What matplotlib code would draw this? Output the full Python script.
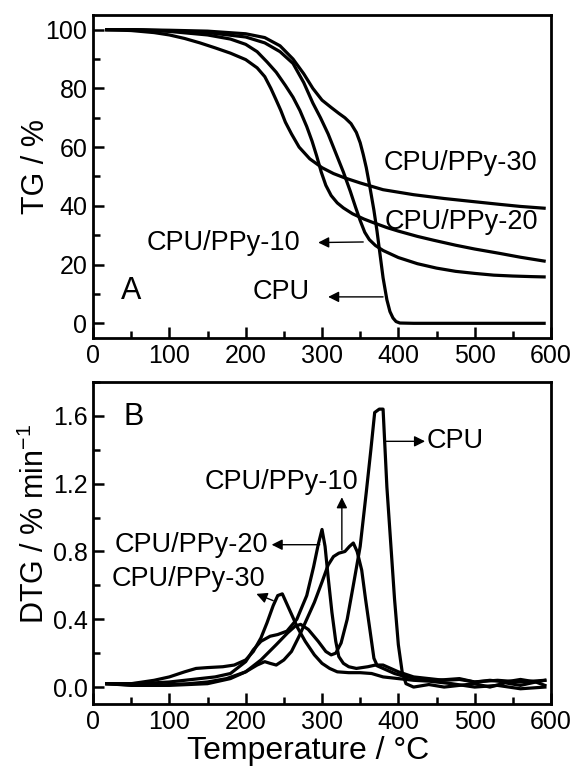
import numpy as np
import matplotlib.pyplot as plt
from matplotlib.ticker import MultipleLocator

plt.rcParams['font.family'] = ['Liberation Sans', 'DejaVu Sans']
plt.rcParams['mathtext.fontset'] = 'custom'
plt.rcParams['mathtext.rm'] = 'Liberation Sans'
plt.rcParams['mathtext.default'] = 'regular'

# ---- TG data (temperature in C, weight in %) ----
tg_cpu_t = [18, 50, 100, 150, 200, 225, 245, 262, 276, 288, 300, 312, 322, 330, 338, 345,
            350, 354, 358, 363, 368, 372, 376, 380, 385, 389, 393, 397, 402, 420, 500, 591]
tg_cpu = [100, 100, 99.8, 99.5, 98.6, 97.3, 94.5, 90, 85, 80, 76, 73.5, 71.5, 70, 68, 65,
          61.5, 57.5, 53, 46, 38.5, 31.5, 23.5, 15.5, 8, 4, 1.8, 0.6, 0.1, 0, 0, 0]

tg_p10_t = [18, 50, 100, 150, 200, 225, 245, 262, 276, 288, 298, 308, 318, 328, 337, 344,
            350, 356, 362, 370, 380, 400, 425, 450, 475, 500, 525, 550, 575, 591]
tg_p10 = [100, 100, 99.6, 99, 97.5, 95.5, 92.5, 88.5, 82, 75, 70, 64.5, 58, 51.5, 45, 39.5,
          35, 31, 28.5, 26.5, 24.8, 22.4, 20.3, 18.8, 17.7, 17, 16.4, 16.1, 15.9, 15.8]

tg_p20_t = [18, 50, 100, 150, 180, 200, 215, 228, 240, 252, 262, 271, 280, 287, 293, 299,
            305, 312, 320, 328, 340, 355, 367, 385, 400, 425, 446, 475, 500, 533, 560, 591]
tg_p20 = [100, 100, 99.4, 98.2, 96.8, 95, 92.5, 89, 85.5, 81, 77, 72.5, 67, 62, 57, 51.5,
          47, 43.5, 41, 39.3, 37.3, 35.5, 34.3, 32.6, 31.4, 29.6, 28.3, 26.6, 25.3, 23.8, 22.5, 21.2]

tg_p30_t = [18, 50, 80, 100, 120, 140, 160, 180, 200, 215, 225, 233, 240, 246, 252, 260,
            270, 284, 300, 315, 330, 350, 380, 420, 460, 500, 533, 560, 591]
tg_p30 = [100, 99.7, 99, 98.2, 97, 95.5, 93.8, 92, 89.8, 87, 84, 80, 76, 72.5, 68.5, 64.5,
          60, 56, 53, 51, 49.5, 47.8, 45.5, 43.8, 42.5, 41.4, 40.5, 39.8, 39.2]

# ---- DTG data (% min^-1) ----
dtg_cpu_t = [18, 40, 60, 80, 100, 125, 150, 175, 200, 220, 240, 255, 265, 272, 282, 295,
             305, 312, 318, 325, 333, 341, 350, 358, 364, 369, 375, 380, 385, 390, 395,
             400, 405, 410, 420, 440, 460, 480, 500, 520, 540, 560, 580, 592]
dtg_cpu = [0.02, 0.015, 0.01, 0.01, 0.015, 0.02, 0.03, 0.05, 0.09, 0.16, 0.25, 0.32, 0.36,
           0.37, 0.34, 0.27, 0.21, 0.19, 0.20, 0.26, 0.40, 0.60, 0.83, 1.15, 1.40, 1.62,
           1.64, 1.64, 1.18, 0.85, 0.52, 0.25, 0.09, 0.02, 0.0, 0.015, 0.0, 0.01, 0.02,
           0.0, 0.025, 0.01, 0.03, 0.01]

dtg_p10_t = [18, 50, 100, 150, 180, 200, 215, 225, 232, 240, 250, 260, 270, 280, 290, 300,
             308, 315, 322, 330, 336, 341, 346, 352, 357, 363, 368, 372, 380, 390, 400,
             420, 440, 460, 480, 500, 520, 540, 560, 580, 592]
dtg_p10 = [0.02, 0.01, 0.01, 0.02, 0.05, 0.09, 0.13, 0.15, 0.14, 0.13, 0.16, 0.21, 0.30,
           0.40, 0.50, 0.62, 0.72, 0.77, 0.79, 0.80, 0.83, 0.85, 0.80, 0.69, 0.52, 0.33,
           0.17, 0.13, 0.13, 0.11, 0.09, 0.06, 0.05, 0.04, 0.045, 0.03, 0.04, 0.03, 0.045,
           0.03, 0.04]

dtg_p20_t = [18, 50, 80, 100, 120, 140, 160, 180, 200, 210, 220, 232, 242, 254, 267, 280,
             289, 295, 300, 304, 308, 313, 318, 322, 328, 335, 345, 360, 370, 380, 395,
             410, 430, 450, 480, 500, 530, 560, 592]
dtg_p20 = [0.02, 0.02, 0.025, 0.03, 0.04, 0.05, 0.06, 0.08, 0.15, 0.22, 0.27, 0.30, 0.31,
           0.33, 0.40, 0.54, 0.71, 0.84, 0.93, 0.83, 0.65, 0.44, 0.27, 0.18, 0.14, 0.12,
           0.11, 0.12, 0.13, 0.11, 0.08, 0.06, 0.05, 0.04, 0.05, 0.03, 0.04, 0.03, 0.04]

dtg_p30_t = [18, 50, 80, 100, 120, 135, 150, 170, 185, 200, 210, 220, 228, 236, 242, 248,
             253, 260, 268, 278, 290, 300, 310, 320, 335, 350, 365, 380, 400, 420, 440,
             470, 500, 530, 560, 592]
dtg_p30 = [0.02, 0.02, 0.04, 0.06, 0.09, 0.11, 0.115, 0.12, 0.13, 0.16, 0.21, 0.29, 0.38,
           0.48, 0.54, 0.55, 0.50, 0.43, 0.35, 0.27, 0.19, 0.14, 0.11, 0.09, 0.085, 0.085,
           0.08, 0.06, 0.05, 0.04, 0.035, 0.02, 0.0, 0.01, -0.01, 0.0]

TICK_FS = 18
ANN_FS = 19.5
LAB_FS = 22
LW = 2.3


def style_axis(ax):
    for sp in ax.spines.values():
        sp.set_linewidth(2)
    ax.tick_params(which='both', direction='in', top=False, right=False,
                   width=1.8, labelsize=TICK_FS, pad=4)
    ax.tick_params(which='major', length=8)
    ax.tick_params(which='minor', length=5)
    ax.set_xlim(0, 600)
    ax.xaxis.set_major_locator(MultipleLocator(100))
    ax.xaxis.set_minor_locator(MultipleLocator(50))


def arrow(ax, xy_from, xy_to):
    ax.annotate('', xy=xy_to, xytext=xy_from,
                arrowprops=dict(arrowstyle='-|>', color='k', lw=1.0,
                                mutation_scale=16, shrinkA=0, shrinkB=0))


fig = plt.figure(figsize=(5.76, 7.68), dpi=100)

# ---------- panel A: TG ----------
ax1 = fig.add_axes([0.1615, 0.5599, 0.7951, 0.4206])
style_axis(ax1)
for t, w in [(tg_cpu_t, tg_cpu), (tg_p10_t, tg_p10), (tg_p20_t, tg_p20), (tg_p30_t, tg_p30)]:
    ax1.plot(t, w, color='k', lw=LW, solid_joinstyle='round')
ax1.set_ylim(-5, 105)
ax1.yaxis.set_major_locator(MultipleLocator(20))
ax1.yaxis.set_minor_locator(MultipleLocator(10))
ax1.set_ylabel('TG / %', fontsize=LAB_FS)
ax1.yaxis.set_label_coords(-0.092, 0.53)

ax1.text(381, 54.5, 'CPU/PPy-30', fontsize=ANN_FS, ha='left', va='center')
ax1.text(382, 34.5, 'CPU/PPy-20', fontsize=ANN_FS, ha='left', va='center')
ax1.text(271, 27.5, 'CPU/PPy-10', fontsize=ANN_FS, ha='right', va='center')
arrow(ax1, (354, 27.7), (295, 27.5))
ax1.text(284, 10.5, 'CPU', fontsize=ANN_FS, ha='right', va='center')
arrow(ax1, (380, 9.0), (308, 9.0))
ax1.text(50, 11, 'A', fontsize=22, ha='center', va='center')

# ---------- panel B: DTG ----------
ax2 = fig.add_axes([0.1615, 0.0833, 0.7951, 0.4193])
style_axis(ax2)
for t, d in [(dtg_cpu_t, dtg_cpu), (dtg_p10_t, dtg_p10), (dtg_p20_t, dtg_p20), (dtg_p30_t, dtg_p30)]:
    ax2.plot(t, d, color='k', lw=LW, solid_joinstyle='round')
ax2.set_ylim(-0.1, 1.8)
ax2.yaxis.set_major_locator(MultipleLocator(0.4))
ax2.yaxis.set_minor_locator(MultipleLocator(0.2))
ax2.yaxis.set_major_formatter(plt.FormatStrFormatter('%.1f'))
ax2.set_ylabel('DTG / % min$^{-1}$', fontsize=LAB_FS)
ax2.yaxis.set_label_coords(-0.092, 0.56)
ax2.set_xlabel('Temperature / \u00b0C', fontsize=23)
ax2.xaxis.set_label_coords(0.47, -0.1)

ax2.text(53, 1.595, 'B', fontsize=22, ha='center', va='center')
ax2.text(437, 1.45, 'CPU', fontsize=ANN_FS, ha='left', va='center')
arrow(ax2, (382, 1.45), (435, 1.45))
ax2.text(347, 1.21, 'CPU/PPy-10', fontsize=ANN_FS, ha='right', va='center')
arrow(ax2, (326, 0.81), (326, 1.12))
ax2.text(229, 0.84, 'CPU/PPy-20', fontsize=ANN_FS, ha='right', va='center')
arrow(ax2, (297, 0.84), (234, 0.84))
ax2.text(226, 0.635, 'CPU/PPy-30', fontsize=ANN_FS, ha='right', va='center')
arrow(ax2, (236, 0.51), (214, 0.55))

fig.savefig('out.png', dpi=100)
